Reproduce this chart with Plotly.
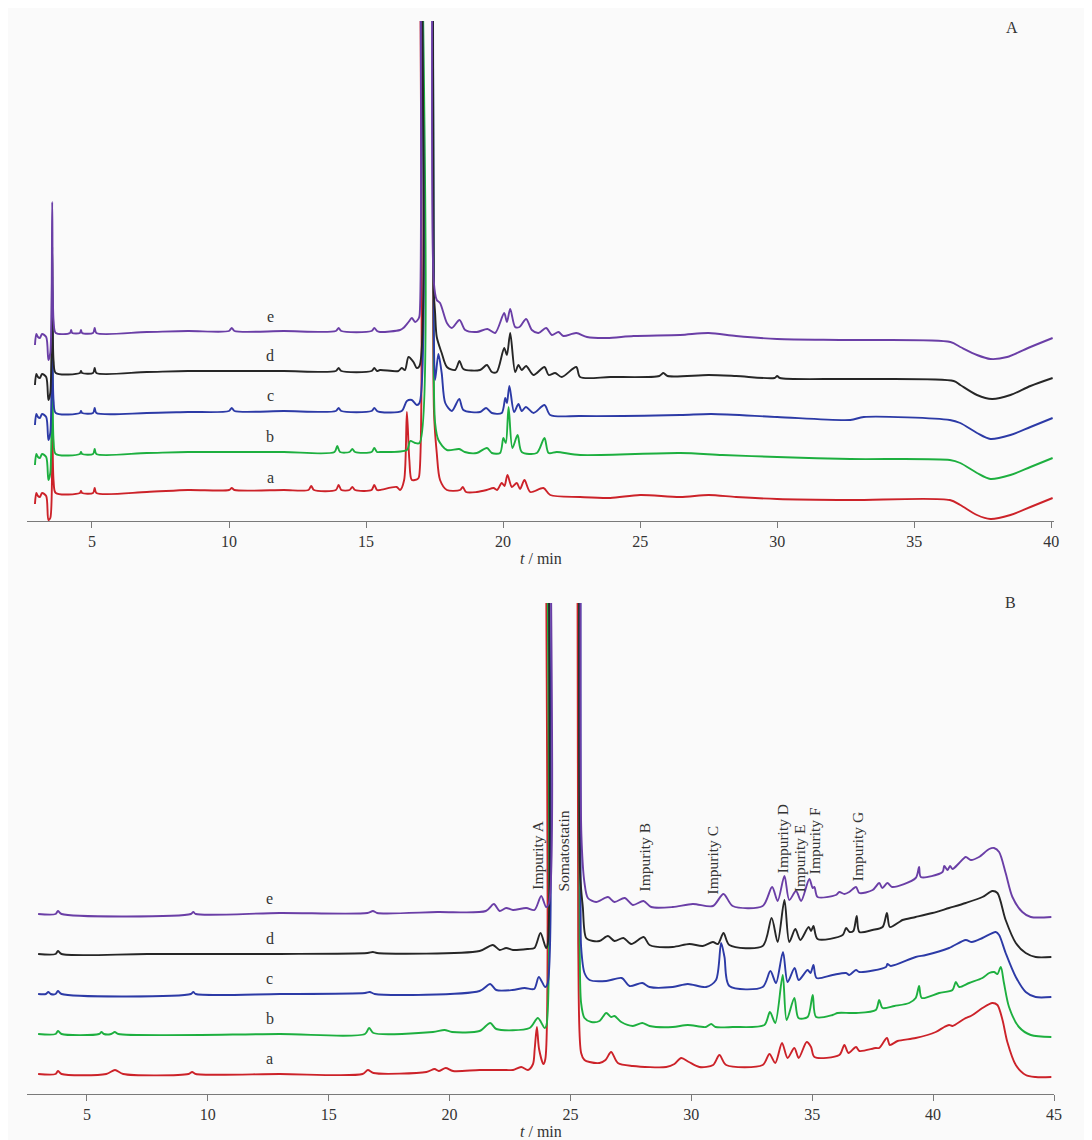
import plotly.graph_objects as go

# ---------------- data (retention time in min, detector response in arbitrary units) ----------------
SAMPLES = ["a", "b", "c", "d", "e"]

# Panel A
A_a_t = [2.92, 2.97, 3.03, 3.10, 3.18, 3.33, 3.41, 3.48, 3.55, 3.60, 3.68, 4.56, 4.60, 4.64, 5.04, 5.10, 5.16, 7.0, 8.5, 10.0, 10.1, 10.2, 12.0, 12.9, 13.0, 13.1, 13.9, 14.0, 14.1, 14.4, 14.5, 14.6, 15.2, 15.3, 15.4, 15.51, 16.12, 16.24, 16.39, 16.49, 16.58, 16.67, 16.88, 16.93, 16.96, 17.2, 17.44, 17.48, 17.58, 17.70, 17.95, 18.43, 18.53, 18.65, 19.04, 19.4, 19.65, 19.78, 19.95, 20.05, 20.16, 20.32, 20.50, 20.62, 20.78, 20.99, 21.47, 21.72, 22.81, 23.91, 25.0, 26.46, 27.5, 28.5, 30.0, 32.67, 36.3, 36.68, 37.29, 37.78, 38.51, 39.24, 40.05]
A_a_h = [17, 28, 25, 24, 28, 25, 1, 3, 101, 40, 28, 28, 30, 28, 28, 33, 28, 29, 31, 31, 33, 31, 31, 31, 35, 31, 31, 36, 31, 31, 34, 31, 31, 36, 31, 31, 34, 31, 41, 109, 61, 41, 42, 44, 800, 1500, 800, 108, 68, 41, 31, 31, 34, 29, 29, 31, 33, 31, 38, 35, 46, 34, 38, 32, 41, 29, 33, 26, 24, 23, 26, 24, 26, 24, 22, 21, 21, 16, 6, 2, 6, 14, 23]

A_b_t = [2.92, 2.97, 3.03, 3.10, 3.18, 3.33, 3.41, 3.48, 3.55, 3.60, 3.68, 4.56, 4.60, 4.64, 5.04, 5.10, 5.16, 7.0, 8.5, 10.0, 12.0, 13.85, 13.95, 14.05, 14.4, 14.5, 14.6, 15.2, 15.3, 15.4, 15.51, 16.49, 16.61, 16.79, 16.95, 16.98, 17.2, 17.42, 17.47, 17.52, 17.64, 17.95, 18.4, 18.6, 19.04, 19.41, 19.59, 19.89, 20.01, 20.1, 20.2, 20.34, 20.53, 20.68, 21.23, 21.51, 21.66, 21.96, 22.81, 26.46, 28.0, 30.0, 32.67, 36.3, 36.68, 37.29, 37.78, 38.51, 39.24, 40.05]
A_b_h = [56, 67, 64, 63, 67, 64, 41, 48, 203, 80, 67, 67, 69, 67, 67, 72, 67, 68, 69, 69, 69, 69, 75, 69, 69, 72, 69, 69, 73, 69, 69, 71, 80, 78, 78, 800, 1500, 800, 150, 98, 81, 71, 72, 69, 68, 73, 68, 68, 83, 78, 114, 73, 86, 69, 68, 83, 68, 69, 66, 68, 66, 64, 62, 61, 58, 48, 42, 46, 54, 63]

A_c_t = [2.92, 2.97, 3.03, 3.10, 3.18, 3.33, 3.41, 3.48, 3.55, 3.60, 3.68, 4.56, 4.60, 4.64, 5.04, 5.10, 5.16, 7.0, 8.5, 10.0, 10.1, 10.2, 12.0, 13.9, 14.0, 14.1, 15.2, 15.3, 15.4, 15.51, 16.30, 16.49, 16.67, 16.85, 16.95, 16.98, 17.2, 17.42, 17.47, 17.52, 17.64, 17.76, 17.89, 18.13, 18.40, 18.55, 19.16, 19.38, 19.59, 19.95, 20.08, 20.14, 20.23, 20.40, 20.56, 20.68, 20.83, 21.11, 21.51, 21.72, 22.81, 26.46, 27.6, 30.0, 32.67, 33.16, 36.3, 36.68, 37.29, 37.78, 38.51, 39.24, 40.05]
A_c_h = [96, 107, 104, 103, 107, 104, 81, 88, 244, 120, 108, 108, 110, 108, 108, 113, 108, 108, 109, 110, 113, 110, 110, 110, 113, 110, 110, 113, 110, 109, 110, 120, 121, 116, 118, 800, 1500, 800, 200, 141, 167, 148, 118, 110, 122, 111, 109, 113, 108, 108, 123, 118, 135, 109, 117, 110, 114, 108, 116, 106, 105, 106, 107, 104, 101, 104, 101, 98, 88, 82, 86, 94, 103]

A_d_t = [2.92, 2.97, 3.03, 3.10, 3.18, 3.33, 3.41, 3.48, 3.55, 3.60, 3.68, 4.56, 4.60, 4.64, 5.04, 5.10, 5.16, 7.0, 8.5, 10.0, 12.0, 13.9, 14.0, 14.1, 15.2, 15.3, 15.4, 15.51, 16.18, 16.30, 16.42, 16.55, 16.73, 16.85, 16.95, 16.98, 17.2, 17.42, 17.47, 17.52, 17.58, 17.76, 17.95, 18.25, 18.41, 18.55, 19.16, 19.41, 19.59, 19.77, 20.04, 20.14, 20.26, 20.44, 20.56, 20.68, 20.84, 21.11, 21.51, 21.66, 21.9, 22.14, 22.67, 22.81, 23.91, 25.7, 25.85, 26.0, 27.5, 28.5, 29.9, 30.0, 30.1, 32.67, 36.44, 36.68, 37.29, 37.84, 38.51, 39.24, 40.05]
A_d_h = [136, 147, 144, 143, 147, 144, 121, 128, 274, 160, 148, 148, 150, 148, 148, 153, 148, 149, 150, 150, 150, 150, 153, 150, 150, 153, 150, 151, 150, 153, 151, 164, 159, 153, 155, 800, 1500, 800, 230, 208, 184, 168, 154, 151, 160, 152, 151, 156, 149, 149, 173, 166, 188, 149, 156, 151, 155, 146, 154, 146, 148, 144, 154, 144, 144, 145, 148, 145, 146, 145, 143, 145, 143, 142, 140, 136, 126, 122, 126, 135, 143]

A_e_t = [2.92, 2.97, 3.03, 3.10, 3.18, 3.33, 3.41, 3.48, 3.55, 3.60, 3.68, 4.20, 4.24, 4.28, 4.56, 4.60, 4.64, 5.04, 5.10, 5.16, 7.0, 8.5, 10.0, 10.1, 10.2, 12.0, 13.9, 14.0, 14.1, 15.2, 15.3, 15.4, 15.51, 16.24, 16.36, 16.55, 16.67, 16.79, 16.91, 16.95, 16.98, 17.2, 17.42, 17.47, 17.58, 17.70, 17.95, 18.13, 18.41, 18.62, 19.04, 19.43, 19.71, 20.04, 20.14, 20.26, 20.44, 20.60, 20.84, 21.05, 21.29, 21.57, 21.78, 22.02, 22.20, 22.67, 23.06, 23.79, 24.76, 26.46, 27.5, 28.5, 30.0, 32.67, 36.32, 36.68, 37.29, 37.78, 38.39, 39.24, 40.05]
A_e_h = [176, 187, 184, 183, 187, 184, 161, 168, 319, 200, 188, 188, 191, 188, 188, 191, 188, 188, 193, 188, 189, 190, 190, 193, 190, 190, 190, 193, 190, 190, 193, 190, 189, 191, 193, 199, 203, 199, 202, 205, 800, 1500, 800, 240, 221, 218, 198, 193, 201, 191, 189, 192, 188, 208, 199, 212, 194, 194, 202, 191, 188, 193, 186, 189, 185, 188, 184, 183, 185, 186, 188, 185, 182, 181, 179, 174, 166, 162, 164, 174, 183]

# Panel B
B_a_t = [2.98, 3.7, 3.8, 3.95, 5.8, 6.16, 6.5, 9.2, 9.35, 9.5, 12.98, 16.4, 16.62, 16.85, 19.04, 19.38, 19.55, 19.84, 20.14, 21.24, 22.34, 22.62, 22.96, 23.24, 23.45, 23.52, 23.61, 23.70, 23.88, 23.96, 24.0, 24.7, 25.25, 25.32, 25.44, 25.58, 25.79, 26.2, 26.45, 26.68, 26.96, 27.58, 28.96, 29.3, 29.58, 29.9, 30.33, 30.9, 31.16, 31.44, 32.95, 33.23, 33.47, 33.75, 33.98, 34.26, 34.44, 34.77, 34.95, 35.09, 36.12, 36.33, 36.5, 36.81, 36.95, 37.63, 37.77, 38.09, 38.21, 38.53, 39.28, 40.11, 40.46, 40.66, 40.8, 41.28, 41.63, 42.04, 42.45, 42.66, 42.87, 43.07, 43.42, 43.83, 44.24, 44.89]
B_a_h = [20, 20, 23, 20, 20, 24, 20, 20, 22, 20, 20, 20, 24, 21, 22, 25, 23, 26, 23, 24, 24, 24, 27, 24, 30, 45, 67, 45, 30, 35, 800, 1500, 800, 150, 41, 34, 32, 31, 34, 42, 31, 28, 27, 30, 36, 32, 27, 29, 39, 29, 29, 40, 31, 51, 36, 46, 36, 52, 47, 37, 39, 49, 41, 47, 43, 46, 46, 56, 49, 53, 56, 62, 67, 69, 68, 75, 79, 86, 91, 89, 74, 52, 29, 19, 17, 17]

B_b_t = [2.98, 3.7, 3.8, 3.95, 5.5, 5.6, 5.7, 6.0, 6.15, 6.3, 12.98, 16.5, 16.67, 16.85, 19.31, 19.79, 20.1, 21.24, 21.68, 21.93, 23.31, 23.65, 23.93, 24.0, 24.04, 24.7, 25.3, 25.38, 25.44, 25.58, 25.86, 26.2, 26.48, 26.68, 26.82, 27.1, 27.58, 27.97, 28.27, 29.23, 29.85, 30.6, 30.82, 31.0, 31.71, 33.02, 33.25, 33.47, 33.78, 33.94, 34.26, 34.43, 34.81, 35.02, 35.16, 35.84, 36.05, 36.53, 36.81, 37.63, 37.77, 37.91, 38.4, 39.01, 39.28, 39.42, 39.53, 40.25, 40.8, 40.94, 41.08, 41.49, 42.04, 42.32, 42.52, 42.66, 42.8, 42.93, 43.14, 43.55, 44.04, 44.89]
B_b_h = [60, 60, 63, 60, 60, 62, 60, 60, 62, 60, 60, 60, 66, 61, 62, 64, 62, 63, 71, 65, 66, 76, 66, 68, 800, 1500, 800, 150, 91, 76, 72, 73, 81, 77, 78, 72, 68, 71, 68, 67, 69, 67, 70, 67, 67, 69, 82, 71, 119, 74, 96, 76, 77, 99, 77, 79, 81, 81, 81, 84, 94, 86, 88, 91, 96, 108, 96, 101, 104, 112, 107, 111, 116, 121, 122, 120, 127, 111, 87, 67, 59, 57]

B_c_t = [2.98, 3.3, 3.4, 3.5, 3.7, 3.8, 3.95, 9.3, 9.4, 9.5, 12.98, 16.5, 16.7, 16.9, 21.24, 21.68, 21.93, 22.6, 23.1, 23.5, 23.69, 23.95, 24.05, 24.09, 24.7, 25.36, 25.42, 25.44, 25.58, 25.79, 26.48, 27.12, 27.44, 27.97, 28.27, 29.23, 29.85, 30.61, 31.02, 31.23, 31.37, 31.57, 32.95, 33.27, 33.5, 33.79, 33.98, 34.27, 34.44, 34.81, 34.93, 35.05, 35.18, 35.84, 36.4, 36.53, 36.81, 36.95, 38.05, 38.11, 38.25, 39.28, 39.7, 40.66, 41.35, 41.6, 42.04, 42.59, 42.73, 43.0, 43.42, 43.83, 44.24, 44.89]
B_c_h = [100, 100, 102, 100, 100, 103, 100, 100, 102, 100, 100, 101, 102, 100, 103, 110, 104, 104, 106, 105, 117, 107, 110, 800, 1500, 800, 180, 147, 121, 114, 113, 116, 108, 111, 107, 107, 110, 107, 114, 151, 137, 108, 107, 123, 111, 142, 112, 126, 114, 124, 121, 129, 116, 119, 121, 119, 124, 122, 127, 130, 128, 137, 139, 146, 154, 152, 156, 162, 159, 141, 117, 102, 97, 97]

B_d_t = [2.98, 3.7, 3.8, 3.95, 7.5, 12.98, 16.6, 16.83, 17.0, 21.24, 21.79, 22.07, 22.34, 22.62, 23.24, 23.51, 23.76, 23.99, 24.06, 24.10, 24.7, 25.33, 25.40, 25.51, 25.65, 25.93, 26.2, 26.55, 26.82, 27.19, 27.51, 28.03, 28.27, 29.23, 29.92, 30.47, 30.89, 31.1, 31.33, 31.57, 32.95, 33.32, 33.57, 33.85, 34.05, 34.3, 34.51, 34.85, 34.95, 35.05, 35.22, 36.26, 36.4, 36.55, 36.7, 36.84, 36.95, 37.49, 37.91, 38.09, 38.21, 38.6, 38.73, 39.28, 39.97, 40.66, 41.35, 42.04, 42.45, 42.66, 43.0, 43.42, 43.83, 44.24, 44.89]
B_d_h = [140, 140, 143, 140, 140, 140, 141, 142, 141, 143, 149, 144, 146, 144, 145, 146, 161, 146, 150, 800, 1500, 800, 220, 187, 156, 153, 153, 158, 153, 156, 150, 157, 149, 147, 150, 148, 152, 150, 161, 149, 148, 176, 152, 194, 152, 165, 154, 167, 163, 168, 155, 159, 166, 162, 163, 178, 162, 164, 167, 181, 167, 172, 174, 177, 181, 186, 191, 197, 203, 201, 174, 151, 141, 137, 137]

B_e_t = [2.98, 3.7, 3.8, 3.95, 9.3, 9.4, 9.5, 12.98, 16.6, 16.83, 17.0, 19.5, 21.5, 21.83, 22.07, 22.34, 22.62, 23.17, 23.51, 23.79, 23.99, 24.10, 24.14, 24.7, 25.38, 25.45, 25.58, 25.72, 26.06, 26.55, 26.82, 27.24, 27.58, 28.02, 28.34, 29.23, 30.06, 30.89, 31.33, 31.71, 32.95, 33.34, 33.57, 33.85, 34.05, 34.33, 34.54, 34.88, 35.02, 35.09, 35.22, 35.98, 36.12, 36.33, 36.53, 36.81, 36.95, 37.5, 37.77, 37.9, 38.11, 38.3, 39.28, 39.42, 39.49, 40.39, 40.46, 40.6, 40.7, 40.8, 41.08, 41.35, 41.56, 41.9, 42.32, 42.52, 42.73, 43.0, 43.28, 43.69, 44.04, 44.89]
B_e_h = [180, 180, 183, 180, 180, 182, 180, 181, 181, 183, 181, 182, 183, 190, 183, 186, 184, 186, 184, 198, 187, 190, 800, 1500, 800, 260, 211, 196, 192, 197, 192, 196, 189, 193, 187, 187, 190, 188, 200, 188, 188, 207, 193, 218, 194, 203, 193, 215, 206, 207, 197, 199, 202, 200, 202, 207, 201, 204, 211, 206, 211, 207, 216, 227, 217, 222, 228, 224, 228, 225, 231, 237, 234, 237, 245, 246, 242, 221, 197, 182, 177, 177]

# annotation texts
TICKS_A = [5, 10, 15, 20, 25, 30, 35, 40]
TICKS_B = [5, 10, 15, 20, 25, 30, 35, 40, 45]
PEAK_NAMES = ["Impurity A", "Somatostatin", "Impurity B", "Impurity C",
              "Impurity D", "Impurity E", "Impurity F", "Impurity G"]

# ---------------- styling ----------------
COLORS = {"a": "#cc2229", "b": "#1daf3f", "c": "#2c3aa6", "d": "#262626", "e": "#6a3ea6"}
FONT = "Liberation Serif, Times New Roman, serif"
BG = "#fafafa"

DATA_A = {"a": (A_a_t, A_a_h), "b": (A_b_t, A_b_h), "c": (A_c_t, A_c_h),
          "d": (A_d_t, A_d_h), "e": (A_e_t, A_e_h)}
DATA_B = {"a": (B_a_t, B_a_h), "b": (B_b_t, B_b_h), "c": (B_c_t, B_c_h),
          "d": (B_d_t, B_d_h), "e": (B_e_t, B_e_h)}

fig = go.Figure()
for s in SAMPLES:
    t, h = DATA_A[s]
    fig.add_trace(go.Scatter(x=t, y=h, mode="lines", xaxis="x", yaxis="y",
                             line=dict(color=COLORS[s], width=1.9, shape="spline", smoothing=0.8),
                             showlegend=False, hoverinfo="skip"))
for s in SAMPLES:
    t, h = DATA_B[s]
    fig.add_trace(go.Scatter(x=t, y=h, mode="lines", xaxis="x2", yaxis="y2",
                             line=dict(color=COLORS[s], width=1.9, shape="spline", smoothing=0.8),
                             showlegend=False, hoverinfo="skip"))

axis_common = dict(showgrid=False, zeroline=False, showline=True, linecolor="#7a7a7a",
                   linewidth=1, ticks="outside", ticklen=6, tickcolor="#7a7a7a",
                   tickfont=dict(family=FONT, size=16, color="#333"))

# the page adds an 8 px body margin, so figure margins are offset by it
M_L, M_R, M_T, M_B = 19, 46, 13, 54
H_PAPER = 1140 - M_T - M_B
A_BOTTOM = (1086 - 513) / H_PAPER
B_TOP = (1086 - 595) / H_PAPER

fig.update_layout(
    width=1092, height=1140,
    margin=dict(l=M_L, r=M_R, t=M_T, b=M_B),
    paper_bgcolor=BG, plot_bgcolor=BG,
    xaxis=dict(domain=[0, 1], range=[2.63, 40.1], anchor="y",
               tickvals=TICKS_A, ticktext=[str(v) for v in TICKS_A], **axis_common),
    yaxis=dict(domain=[A_BOTTOM, 1], range=[0, 500], visible=False, anchor="x"),
    xaxis2=dict(domain=[0, 1], range=[2.52, 45.0], anchor="y2",
                tickvals=TICKS_B, ticktext=[str(v) for v in TICKS_B], **axis_common),
    yaxis2=dict(domain=[0, B_TOP], range=[0, 491], visible=False, anchor="x2"),
    font=dict(family=FONT, color="#333"),
)

ann = []
# axis titles
for yp in (A_BOTTOM, 0):
    ann.append(dict(x=0.5, y=yp, xref="paper", yref="paper", text="<i>t</i> / min",
                    showarrow=False, yanchor="middle", yshift=-37,
                    font=dict(family=FONT, size=16, color="#333")))
# panel letters
ann.append(dict(x=38.58, y=494, xref="x", yref="y", text="A", showarrow=False,
                font=dict(family=FONT, size=16, color="#333")))
ann.append(dict(x=43.22, y=486, xref="x2", yref="y2", text="B", showarrow=False,
                yshift=6, font=dict(family=FONT, size=16, color="#333")))
# sample labels
for s, ya, yb in zip(SAMPLES, [44, 85, 126, 166, 205], [36, 76, 116, 156, 196]):
    ann.append(dict(x=11.5, y=ya, xref="x", yref="y", text=s, showarrow=False,
                    font=dict(family=FONT, size=16, color="#333")))
    ann.append(dict(x=12.56, y=yb, xref="x2", yref="y2", text=s, showarrow=False,
                    font=dict(family=FONT, size=16, color="#333")))
# peak names (rotated)
name_pos = [(23.6, 239), (24.67, 243), (28.06, 237), (30.87, 234),
            (33.76, 255), (34.46, 236), (35.08, 253), (36.86, 247)]
for name, (px, py) in zip(PEAK_NAMES, name_pos):
    ann.append(dict(x=px, y=py, xref="x2", yref="y2", text=name, textangle=-90,
                    showarrow=False, font=dict(family=FONT, size=15.5, color="#333")))
fig.update_layout(annotations=ann)

fig.write_html("out.html")
